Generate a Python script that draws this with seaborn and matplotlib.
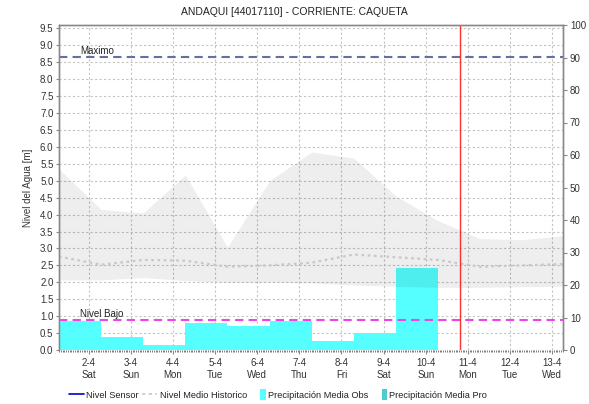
import numpy as np
import pandas as pd
import matplotlib
matplotlib.use("Agg")
import matplotlib.pyplot as plt
import matplotlib.dates as mdates
from matplotlib.lines import Line2D
from matplotlib.patches import Patch, Rectangle
from matplotlib.legend_handler import HandlerPatch
from matplotlib.ticker import FixedLocator, FuncFormatter
import seaborn as sns

# --- datos ---------------------------------------------------------------
titulo = "ANDAQUI [44017110] - CORRIENTE: CAQUETA"

# Banda historica (min / max) y nivel medio historico, valores diarios 07:00
fechas_hist = ["2022-04-01 07:00", "2022-04-02 07:00", "2022-04-03 07:00",
               "2022-04-04 07:00", "2022-04-05 07:00", "2022-04-06 07:00",
               "2022-04-07 07:00", "2022-04-08 07:00", "2022-04-09 07:00",
               "2022-04-10 07:00", "2022-04-11 07:00", "2022-04-12 07:00",
               "2022-04-13 07:00"]
hist_max = [5.35, 4.15, 4.05, 5.17, 3.04, 5.00, 5.85, 5.67, 4.55, 3.82, 3.29, 3.26, 3.38]
hist_min = [2.07, 2.07, 2.14, 2.05, 2.00, 2.00, 1.98, 1.92, 1.88, 1.85, 1.85, 1.87, 1.88]
hist_medio = [2.76, 2.52, 2.66, 2.64, 2.46, 2.50, 2.58, 2.82, 2.74, 2.66, 2.46, 2.50, 2.54]

# Precipitacion media observada (mm), acumulado diario 07:00 - 07:00
precip_inicio = ["2022-04-01 07:00", "2022-04-02 07:00", "2022-04-03 07:00",
                 "2022-04-04 07:00", "2022-04-05 07:00", "2022-04-06 07:00",
                 "2022-04-07 07:00", "2022-04-08 07:00", "2022-04-09 07:00"]
precip_obs = [9.0, 3.9, 1.5, 8.2, 7.3, 9.0, 2.9, 5.3, 25.1]

nivel_maximo = 8.65
nivel_bajo = 0.89
ahora = "2022-04-10 19:30"
rango_x = ["2022-04-01 07:00", "2022-04-13 06:15"]
ticks_nivel = np.arange(0, 9.51, 0.5)
ticks_precip = np.arange(0, 101, 10)

# --- estilo ----------------------------------------------------------------
sns.set_style("white")
plt.rcParams["font.family"] = ["Liberation Sans", "DejaVu Sans"]
plt.rcParams["font.size"] = 7

c_texto = "#333333"
c_eje = "#888888"
c_grid = "#c4c4c4"

fig = plt.figure(figsize=(5.89, 4.04), dpi=100)
pos = [59 / 589, 1 - 350 / 404, (563 - 59) / 589, (350 - 25) / 404]

# eje base: nivel (izquierda) con rejilla
ax = fig.add_axes(pos)
# eje de precipitacion (derecha)
ax_p = ax.twinx()
# capa superior para banda historica y lineas de referencia
ax_n = ax.twinx()

t_hist = mdates.date2num(pd.to_datetime(fechas_hist))
t_prec = mdates.date2num(pd.to_datetime(precip_inicio))
x0, x1 = mdates.date2num(pd.to_datetime(rango_x))

ax.set_xlim(x0, x1)
ax.set_ylim(0, 9.6)
ax_n.set_ylim(0, 9.6)
ax_p.set_ylim(0, 100)

# barras de precipitacion
ax_p.bar(t_prec, precip_obs, width=1.0, align="edge", color="#55ffff",
         edgecolor="none", linewidth=0)

# banda historica
ax_n.fill_between(t_hist, hist_min, hist_max, color="#000000", alpha=0.065,
                  linewidth=0)
df_medio = pd.DataFrame({"t": t_hist, "nivel": hist_medio})
sns.lineplot(data=df_medio, x="t", y="nivel", ax=ax_n, color="#c8c8c8",
             linestyle=(0, (1.2, 1.6)), linewidth=1.6)

# niveles de referencia
ax_n.axhline(nivel_maximo, color="#6670a0", linestyle=(0, (4, 2.5)), linewidth=1.5)
ax_n.axhline(nivel_bajo, color="#ee44ee", linestyle=(0, (4, 2.5)), linewidth=1.5)
ax_n.axvline(mdates.date2num(pd.Timestamp(ahora)), color="#ff3030", linewidth=1.0)

trans = ax_n.get_yaxis_transform()
ax_n.text(0.042, nivel_maximo + 0.04, "Maximo", transform=trans, ha="left",
          va="bottom", fontsize=7, color="#222222")
ax_n.text(0.042, nivel_bajo + 0.04, "Nivel Bajo", transform=trans, ha="left",
          va="bottom", fontsize=7, color="#222222")
ax_n.set_xlabel("")
ax_n.set_ylabel("")
ax_n.set_yticks([])

ax.set_xlim(x0, x1)

# rejilla y ejes del nivel
ax.yaxis.set_major_locator(FixedLocator(ticks_nivel))
ax.xaxis.set_major_locator(mdates.DayLocator())
ax.xaxis.set_minor_locator(mdates.HourLocator())
ax.grid(True, which="major", color=c_grid, linestyle=(0, (2, 2)), linewidth=0.8)

ax.set_ylabel("Nivel del Agua [m]", color=c_texto, fontsize=7, labelpad=5)
ax.yaxis.set_major_formatter(FuncFormatter(lambda v, p: f"{v:.1f}"))
ax.tick_params(axis="y", which="major", length=2, width=0.8, colors=c_eje,
               labelcolor=c_texto, labelsize=7, pad=2, left=True)


def etiqueta_dia(v, p):
    d = mdates.num2date(v)
    return f"{d.day}-{d.month}\n{d:%a}"


ax.xaxis.set_major_formatter(FuncFormatter(etiqueta_dia))
ax.tick_params(axis="x", which="major", length=3, width=0.8, colors=c_eje,
               labelcolor=c_texto, labelsize=7, pad=3, bottom=True)
ax.tick_params(axis="x", which="minor", length=1.5, width=0.6, colors="#666666",
               bottom=True)
for lab in ax.get_xticklabels():
    lab.set_linespacing(1.25)

# eje de precipitacion a la derecha
ax_p.yaxis.set_major_locator(FixedLocator(ticks_precip))
ax_p.tick_params(axis="y", length=3, width=0.8, colors=c_eje, labelcolor=c_texto,
                 labelsize=7, pad=2, right=True)
for a in (ax_p, ax_n):
    a.tick_params(axis="x", which="both", bottom=False, top=False,
                  labelbottom=False, labeltop=False)

for a in (ax, ax_p, ax_n):
    for s in a.spines.values():
        s.set_color(c_eje)
        s.set_linewidth(0.9)
    a.spines["bottom"].set_visible(False)

ax_p.patch.set_visible(False)
ax_n.patch.set_visible(False)

fig.text(0.5, 1 - 12 / 404, titulo, ha="center", va="center", fontsize=7.5,
         color="#222222")


def cuadro_estrecho(legend, orig_handle, xdescent, ydescent, width, height, fontsize):
    w = width * 0.35
    return Rectangle((-xdescent + width - w, -ydescent - height * 0.15), w,
                     height * 1.3)


handles = [
    Line2D([], [], color="#0000cc", linewidth=1.2),
    Line2D([], [], color="#c8c8c8", linestyle=(0, (2, 2)), linewidth=1.2),
    Patch(facecolor="#55ffff", edgecolor="none"),
    Patch(facecolor="#4ccccc", edgecolor="none"),
]
labels = ["Nivel Sensor", "Nivel Medio Historico", "Precipitación Media Obs",
          "Precipitación Media Pro"]
fig.legend(handles, labels, loc="center", bbox_to_anchor=(0.472, 1 - 395 / 404),
           ncol=4, frameon=False, fontsize=6.7, handlelength=1.6, handleheight=1.0,
           handletextpad=0.25, columnspacing=0.4, borderaxespad=0,
           labelcolor="#222222",
           handler_map={Patch: HandlerPatch(patch_func=cuadro_estrecho)})

fig.savefig("out.png", dpi=100)
